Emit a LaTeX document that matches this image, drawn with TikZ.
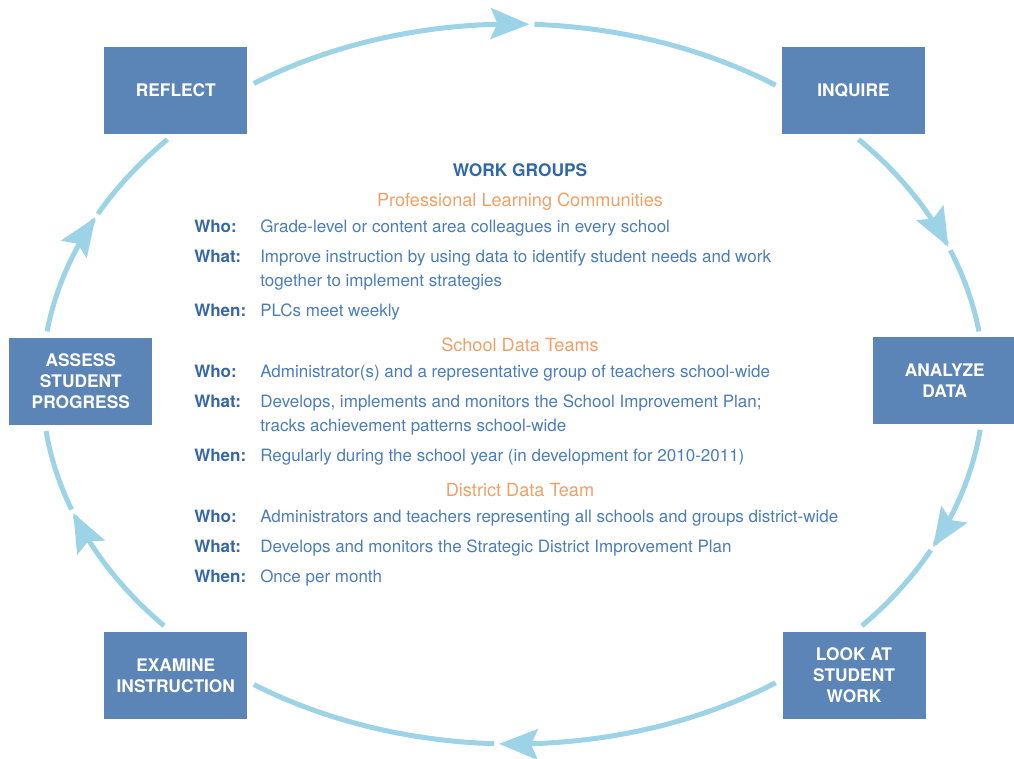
\documentclass[tikz,border=0pt]{standalone}
\usepackage{fontspec}
\setmainfont{TeX Gyre Heros}
\usetikzlibrary{arrows.meta}
\usetikzlibrary{positioning}
\definecolor{mbox}{RGB}{91,132,183}
\definecolor{mring}{RGB}{156,211,231}
\definecolor{mtitle}{RGB}{47,104,169}
\definecolor{mkey}{RGB}{53,103,166}
\definecolor{mtext}{RGB}{74,125,185}
\definecolor{morange}{RGB}{240,160,102}
\tikzset{stage/.style = {fill=mbox, text=white, align=center, inner sep=0pt,
                         minimum width=107.25pt, minimum height=65.25pt,
                         font=\bfseries\fontsize{13}{15.75}\selectfont}}
\tikzset{cycleline/.style = {draw=mring, line width=3.75pt, line join=round}}
\tikzset{cycletip/.style = {-{Stealth[length=29pt, width=23pt, inset=5pt]}}}
\tikzset{heading/.style = {anchor=base, inner sep=0pt, text=mtitle,
                           font=\bfseries\fontsize{13}{16}\selectfont}}
\tikzset{team/.style = {anchor=base, inner sep=0pt, text=morange,
                        font=\fontsize{13.6}{16}\selectfont}}
\tikzset{key/.style = {anchor=base west, inner sep=0pt, text=mkey,
                       font=\bfseries\fontsize{12.75}{18}\selectfont}}
\tikzset{info/.style = {anchor=base west, inner sep=0pt, text=mtext, align=left,
                        font=\fontsize{12.75}{18}\selectfont}}

\begin{document}
\begin{tikzpicture}[x=0.75pt, y=-0.75pt]
    \useasboundingbox (0, 0) rectangle (1014, 758);

    % the cycle, one arc per step
    \foreach \s/\m/\e in {-123.4/-88/-56.1, -42.8/-22.4/-8.4, 7.3/26.9/42.2,
                          56.1/91.7/123.4, 137.8/159/172.5, 188.4/207.6/222.8} {
      \pgfmathsetmacro{\n}{\m + 0.6}
      \draw [cycleline, cycletip] plot [domain=\s:\m, samples=30] ({513 + 471 * cos(\x)}, {384 + 360 * sin(\x)});
      \draw [cycleline] plot [domain=\n:\e, samples=30] ({513 + 471 * cos(\x)}, {384 + 360 * sin(\x)});
    }

    \node [stage] (reflect) at (175.8, 90) {REFLECT};
    \node [stage] (inquire) at (853.5, 90) {INQUIRE};
    \node [stage] (analyze) at (944.8, 380.7) {ANALYZE\\DATA};
    \node [stage] (look) at (854, 675.4) {LOOK AT\\STUDENT\\WORK};
    \node [stage] (examine) at (175.8, 675.4) {EXAMINE\\INSTRUCTION};
    \node [stage] (assess) at (80.8, 381.2) {ASSESS\\STUDENT\\PROGRESS};

    \node [heading] (groups) at (520, 176) {WORK GROUPS};

    % multi-line texts sit on the baseline of their last line
    \node [team] (plc) at (520, 206) {Professional Learning Communities};
    \node [key] (plcwho) at (194, 232.5) {Who:};
    \node [info] (plcwhotext) at (260, 232.5) {Grade-level or content area colleagues in every school};
    \node [key] (plcwhat) at (194, 262.5) {What:};
    \node [info] (plcwhattext) at (260, 286.5) {Improve instruction by using data to identify student needs and work\\together to implement strategies};
    \node [key] (plcwhen) at (194, 316.5) {When:};
    \node [info] (plcwhentext) at (260, 316.5) {PLCs meet weekly};

    \node [team] (sdt) at (520, 351) {School Data Teams};
    \node [key] (sdtwho) at (194, 377) {Who:};
    \node [info] (sdtwhotext) at (260, 377) {Administrator(s) and a representative group of teachers school-wide};
    \node [key] (sdtwhat) at (194, 407) {What:};
    \node [info] (sdtwhattext) at (260, 431) {Develops, implements and monitors the School Improvement Plan;\\tracks achievement patterns school-wide};
    \node [key] (sdtwhen) at (194, 461) {When:};
    \node [info] (sdtwhentext) at (260, 461) {Regularly during the school year (in development for 2010-2011)};

    \node [team] (ddt) at (520, 496) {District Data Team};
    \node [key] (ddtwho) at (194, 522) {Who:};
    \node [info] (ddtwhotext) at (260, 522) {Administrators and teachers representing all schools and groups district-wide};
    \node [key] (ddtwhat) at (194, 552) {What:};
    \node [info] (ddtwhattext) at (260, 552) {Develops and monitors the Strategic District Improvement Plan};
    \node [key] (ddtwhen) at (194, 582) {When:};
    \node [info] (ddtwhentext) at (260, 582) {Once per month};
\end{tikzpicture}
\end{document}
